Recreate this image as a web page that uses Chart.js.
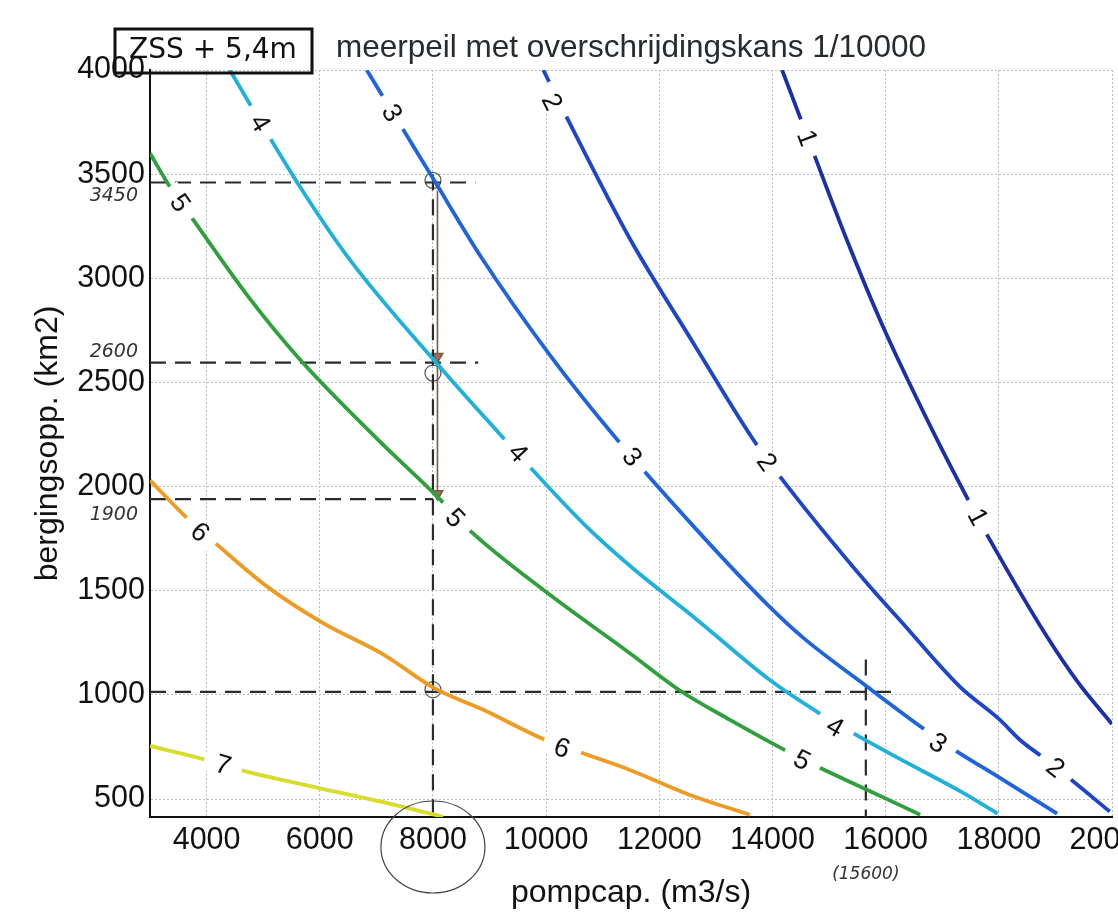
<!DOCTYPE html>
<html>
<head>
<meta charset="utf-8">
<script src="https://cdn.jsdelivr.net/npm/chart.js@4.4.1/dist/chart.umd.min.js"></script>
<style>
html, body { margin: 0; padding: 0; background: #fff; overflow: hidden; }
canvas { display: block; }
</style>
</head>
<body>
<canvas id="myChart" width="1160" height="916"></canvas>
<script>
// contour levels (meerpeil, m) and their colours
const levels = [1, 2, 3, 4, 5, 6, 7];
const lineColors = ['#1b2fa6', '#1c45c9', '#1f64dc', '#1fb1dc', '#2fa03d', '#ee9b24', '#d6dd2c'];

// [pompcap (m3/s), bergingsopp (km2)]
const contour1 = [[14170, 4000], [14520, 3750], [15320, 3180], [15950, 2770], [16900, 2230], [17490, 1920], [17810, 1760], [18850, 1280], [19400, 1060], [20000, 860]];
const contour2 = [[9950, 4000], [10370, 3770], [11480, 3190], [12600, 2690], [13650, 2230], [14100, 2060], [15720, 1520], [16250, 1360], [17310, 1040], [18020, 880], [18370, 785], [18730, 710], [19290, 590], [19960, 440]];
const contour3 = [[6830, 4000], [7120, 3870], [7450, 3725], [8000, 3480], [8880, 3090], [10070, 2630], [11180, 2250], [12670, 1790], [13960, 1420], [14540, 1275], [15670, 1040], [16660, 840], [17220, 735], [17970, 610], [19030, 430]];
const contour4 = [[4410, 4000], [4800, 3820], [5650, 3440], [6530, 3090], [8120, 2575], [9240, 2235], [10650, 1825], [11480, 1620], [12670, 1360], [13960, 1070], [14840, 910], [15370, 825], [16200, 700], [17370, 530], [17980, 430]];
const contour5 = [[3000, 3600], [3350, 3440], [3740, 3290], [4770, 2900], [5650, 2610], [7010, 2230], [8120, 1940], [8650, 1790], [10020, 1490], [11480, 1200], [12370, 1020], [13250, 880], [14220, 735], [14800, 655], [15670, 545], [16610, 425]];
const contour6 = [[3000, 2030], [3650, 1850], [4150, 1730], [5070, 1520], [6060, 1345], [7120, 1195], [8040, 1030], [8880, 930], [9980, 785], [10600, 725], [11480, 640], [12540, 520], [13600, 425]];
const contour7 = [[3000, 755], [3970, 690], [4590, 640], [5950, 555], [7120, 485], [8180, 415]];
const contours = [contour1, contour2, contour3, contour4, contour5, contour6, contour7];

// where the level numbers sit on each contour
const labelSpots = [
    [[14610, 3674], [17630, 1854]],
    [[10103, 3846], [13900, 2118], [19000, 650]],
    [[7276, 3794], [11517, 2142], [16924, 769]],
    [[4944, 3746], [9503, 2161], [15104, 846]],
    [[3530, 3361], [8389, 1849], [14521, 687]],
    [[3884, 1782], [10280, 745]],
    [[4290, 663]]
];

const pompTicks = [4000, 6000, 8000, 10000, 12000, 14000, 16000, 18000, 20000];
const bergTicks = [500, 1000, 1500, 2000, 2500, 3000, 3500, 4000];

// handwritten reading lines
const readLevels = [3460, 2595, 1940, 1015];
const readUntil = [8750, 8800, 8000, 16200];
const readPomp = [8000, 15650];
const readFrom = [3500, 1170];
const readNotes = ['3450', '2600', '1900'];

const font = '"Liberation Sans", Arial, sans-serif';
const ctx = document.getElementById('myChart').getContext('2d');

const datasets = [];
contours.forEach((c, i) => {
    datasets.push({
        label: 'level ' + levels[i],
        data: c.map(p => ({ x: p[0], y: p[1] })),
        borderColor: lineColors[i],
        borderWidth: 3.8,
        pointRadius: 0,
        cubicInterpolationMode: 'monotone'
    });
});
readLevels.forEach((v, i) => {
    datasets.push({
        label: 'read ' + v,
        data: [{ x: 3000, y: v }, { x: readUntil[i], y: v }],
        borderColor: '#2b2b2b',
        borderWidth: 2.2,
        borderDash: [16, 9],
        pointRadius: 0
    });
});
readPomp.forEach((v, i) => {
    datasets.push({
        label: 'read ' + v,
        data: [{ x: v, y: readFrom[i] }, { x: v, y: 414 }],
        borderColor: '#2b2b2b',
        borderWidth: 2.2,
        borderDash: [16, 9],
        pointRadius: 0
    });
});
// pencil arrow down the 8000 line
datasets.push({
    label: 'arrow',
    data: [{ x: 8080, y: 3420 }, { x: 8080, y: 2625 }, { x: 8080, y: 1965 }],
    borderColor: '#7a5c45',
    backgroundColor: '#9a7050',
    borderWidth: 1.6,
    pointStyle: 'triangle',
    rotation: 180,
    pointRadius: [0, 6, 6]
});
datasets.push({
    label: 'circles',
    data: [{ x: 8000, y: 3470 }, { x: 8000, y: 2545 }, { x: 8000, y: 1025 }],
    showLine: false,
    borderColor: '#555',
    backgroundColor: 'rgba(0,0,0,0)',
    borderWidth: 1.2,
    pointRadius: 8
});

const extras = {
    id: 'extras',
    afterDatasetsDraw(chart) {
        const c = chart.ctx;
        const xs = chart.scales.x, ys = chart.scales.y;
        c.save();
        c.font = '27px ' + font;
        c.textAlign = 'center';
        c.textBaseline = 'middle';
        labelSpots.forEach((spots, i) => {
            const pts = contours[i];
            spots.forEach(s => {
                let k = 0;
                while (k < pts.length - 2 && pts[k + 1][0] < s[0]) k++;
                const dx = xs.getPixelForValue(pts[k + 1][0]) - xs.getPixelForValue(pts[k][0]);
                const dy = ys.getPixelForValue(pts[k + 1][1]) - ys.getPixelForValue(pts[k][1]);
                const ang = Math.atan2(dy, dx);
                const px = xs.getPixelForValue(s[0]), py = ys.getPixelForValue(s[1]);
                const txt = String(levels[i]);
                const w = c.measureText(txt).width + 24;
                c.save();
                c.translate(px, py);
                c.rotate(ang);
                c.fillStyle = '#fff';
                c.fillRect(-w / 2, -10, w, 20);
                c.fillStyle = '#111';
                c.fillText(txt, 0, 1);
                c.restore();
            });
        });
        c.restore();
    },
    afterDraw(chart) {
        const c = chart.ctx;
        const a = chart.chartArea;
        const xs = chart.scales.x, ys = chart.scales.y;
        c.save();
        // title
        c.fillStyle = '#262b2f';
        c.font = '31.5px ' + font;
        c.textAlign = 'center';
        c.textBaseline = 'middle';
        c.fillText('meerpeil met overschrijdingskans 1/10000', (a.left + a.right) / 2, a.top - 22);
        // handwritten box
        c.strokeStyle = '#111';
        c.lineWidth = 3;
        c.strokeRect(a.left - 35, a.top - 41, 197, 44);
        c.fillStyle = '#111';
        c.font = '28px "DejaVu Sans", sans-serif';
        c.fillText('ZSS + 5,4m', a.left + 63, a.top - 19);
        // handwritten values next to the y axis
        c.font = 'italic 19px "DejaVu Sans", sans-serif';
        c.fillStyle = '#333';
        c.textAlign = 'right';
        const offs = [14, -11, 16];
        readNotes.forEach((t, i) => {
            c.fillText(t, a.left - 12, ys.getPixelForValue(readLevels[i]) + offs[i]);
        });
        c.textAlign = 'center';
        c.font = 'italic 17px "DejaVu Sans", sans-serif';
        c.fillText('(15600)', xs.getPixelForValue(readPomp[1]), a.bottom + 58);
        // circle round 8000
        c.strokeStyle = '#444';
        c.lineWidth = 1.2;
        c.beginPath();
        c.ellipse(xs.getPixelForValue(8000), a.bottom + 30, 52, 46, 0, 0, Math.PI * 2);
        c.stroke();
        c.restore();
    }
};

var myChart = new Chart(ctx, {
    type: 'line',
    data: { datasets: datasets },
    plugins: [extras],
    options: {
        responsive: false,
        animation: false,
        layout: { padding: { top: 70, right: 48, left: 0, bottom: 0 } },
        plugins: {
            legend: { display: false },
            tooltip: { enabled: false }
        },
        scales: {
            x: {
                type: 'linear',
                min: 3000,
                max: 20000,
                afterBuildTicks: s => { s.ticks = pompTicks.map(v => ({ value: v })); },
                afterFit: s => { s.height = 99; },
                ticks: {
                    color: '#111',
                    font: { family: font, size: 30.5 },
                    padding: 5,
                    maxRotation: 0,
                    callback: v => String(v)
                },
                grid: { color: '#bdbdbd', lineWidth: 1, drawTicks: false },
                border: { color: '#111', width: 2, dash: [2, 2] },
                title: {
                    display: true,
                    text: 'pompcap. (m3/s)',
                    color: '#111',
                    font: { family: font, size: 32 },
                    padding: { top: 4, bottom: 4 }
                }
            },
            y: {
                type: 'linear',
                min: 414,
                max: 4000,
                afterBuildTicks: s => { s.ticks = bergTicks.map(v => ({ value: v })); },
                afterFit: s => { s.width = 150; },
                ticks: {
                    color: '#111',
                    font: { family: font, size: 30.5 },
                    padding: 5,
                    callback: v => String(v)
                },
                grid: { color: '#bdbdbd', lineWidth: 1, drawTicks: false },
                border: { color: '#111', width: 2, dash: [2, 2] },
                title: {
                    display: true,
                    text: 'bergingsopp. (km2)',
                    color: '#111',
                    font: { family: font, size: 32 },
                    padding: { top: 29, bottom: 0 }
                }
            }
        }
    }
});
</script>
</body>
</html>
